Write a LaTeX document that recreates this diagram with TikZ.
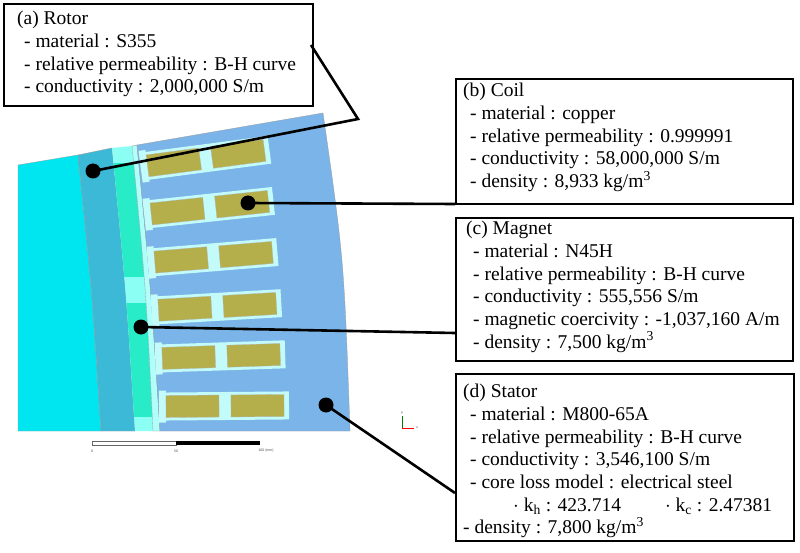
\documentclass[tikz,border=0pt]{standalone}
\usepackage{fontspec}
\setmainfont{Liberation Serif}
\setsansfont{Liberation Sans}
\newcommand{\mysub}[1]{\smash{\textsubscript{#1}}}
\newcommand{\mysup}[1]{\smash{\textsuperscript{#1}}}
\begin{document}
\begin{tikzpicture}[x=1pt,y=-1pt,
  box/.style={draw=black,line width=2.4pt,fill=white,minimum width=#1,inner sep=0},
  txt/.style={anchor=north west,align=left,inner sep=0,font=\fontsize{19.5}{22.7}\selectfont},
  conn/.style={draw=black,line width=2.6pt},
  dotm/.style={circle,fill=black,minimum size=15pt,inner sep=0}]
\definecolor{core}{RGB}{0,230,240}
\definecolor{band}{RGB}{60,185,215}
\definecolor{mag}{RGB}{40,235,200}
\definecolor{magl}{RGB}{140,255,245}
\definecolor{gap}{RGB}{175,255,250}
\definecolor{stat}{RGB}{122,180,232}
\definecolor{slotc}{RGB}{195,250,250}
\definecolor{coil}{RGB}{180,175,75}
\useasboundingbox (0,0) rectangle (800,553);
\fill[white] (0,0) rectangle (800,553);
% rotor core
\fill[core,draw=black!40,line width=0.3pt] (18,165) -- (78,155) .. controls (92,290) .. (101,431) -- (18,431) -- cycle;
% band
\fill[band,draw=black!40,line width=0.3pt] (78,155) -- (112,148) .. controls (126,290) .. (135,431) -- (101,431) .. controls (92,290) .. (78,155);
% magnet column
\begin{scope}
\clip (112,148) -- (132,146) .. controls (146,290) .. (153,431) -- (135,431) .. controls (126,290) .. (112,148);
\fill[magl] (100,140) rectangle (160,440);
\fill[mag] (100,163) rectangle (160,277);
\fill[mag] (100,303) rectangle (160,417);
\end{scope}
% airgap
\fill[gap,draw=black!40,line width=0.3pt] (132,146) -- (137,145) .. controls (151,290) .. (160,431) -- (153,431) .. controls (146,290) .. (132,146);
% stator
\fill[stat,draw=black!40,line width=0.3pt] (137,145) -- (323,113) .. controls (344,260) .. (350,431) -- (160,431) .. controls (151,290) .. (137,145);
% slots
\foreach \i in {0,...,5}{
  \begin{scope}[shift={(207+3.8*\i,158+49.6*\i)},rotate=7.5-1.4*\i]
    \fill[slotc] (-63,-14) rectangle (63,14);
    \fill[slotc] (-67,-16) rectangle (-60,16);
    \fill[coil,draw=black!30,line width=0.3pt] (-60,-11) rectangle (-7,11);
    \fill[coil,draw=black!30,line width=0.3pt] (5,-11) rectangle (58,11);
  \end{scope}
}
% scale bar
\draw[black!60,line width=0.4pt,fill=white] (92,441) rectangle (176,445);
\fill[black] (176,441) rectangle (260,445);
\node[font=\sffamily\fontsize{3.5}{4}\selectfont,text=black!70] (s0) at (92,451) {0};
\node[font=\sffamily\fontsize{3.5}{4}\selectfont,text=black!70] (s50) at (176,451) {50};
\node[font=\sffamily\fontsize{3.5}{4}\selectfont,text=black!70] (s100) at (266,451) {100 (mm)};
% axis triad
\coordinate (ax) at (402,428);
\draw[green!50!black,line width=0.7pt] (ax) -- ++(0,-12);
\draw[red,line width=0.7pt] (ax) -- ++(12,0);
\node[font=\sffamily\fontsize{3}{3}\selectfont] (ay) at (402,413) {y};
\node[font=\sffamily\fontsize{3}{3}\selectfont] (axx) at (417,428) {x};
% boxes
\node[box=309pt,minimum height=102pt,anchor=north west] (A) at (3,3) {};
\node[box=337pt,minimum height=125pt,anchor=north west] (B) at (455,78) {};
\node[box=337pt,minimum height=143pt,anchor=north west] (C) at (455,217) {};
\node[box=338pt,minimum height=167pt,anchor=north west] (D) at (455,373) {};
\node[txt] (At) at (17,11) {(a) Rotor\\\hspace*{7pt}- material : S355\\\hspace*{7pt}- relative permeability : B-H curve\\\hspace*{7pt}- conductivity : 2,000,000 S/m};
\node[txt] (Bt) at (463,83) {(b) Coil\\\hspace*{7pt}- material : copper\\\hspace*{7pt}- relative permeability : 0.999991\\\hspace*{7pt}- conductivity : 58,000,000 S/m\\\hspace*{7pt}- density : 8,933 kg/m\mysup{3}};
\node[txt] (Ct) at (466,221) {(c) Magnet\\\hspace*{7pt}- material : N45H\\\hspace*{7pt}- relative permeability : B-H curve\\\hspace*{7pt}- conductivity : 555,556 S/m\\\hspace*{7pt}- magnetic coercivity : -1,037,160 A/m\\\hspace*{7pt}- density : 7,500 kg/m\mysup{3}};
\node[txt] (Dt) at (463,384) {(d) Stator\\\hspace*{7pt}- material : M800-65A\\\hspace*{7pt}- relative permeability : B-H curve\\\hspace*{7pt}- conductivity : 3,546,100 S/m\\\hspace*{7pt}- core loss model : electrical steel\\\hspace*{50pt}$\cdot$ k\mysub{h} : 423.714\hspace*{44pt}$\cdot$ k\mysub{c} : 2.47381\\- density : 7,800 kg/m\mysup{3}};
% dots
\node[dotm] (dA) at (93,171) {};
\node[dotm] (dB) at (248,203) {};
\node[dotm] (dC) at (141,327) {};
\node[dotm] (dD) at (326,405) {};
\coordinate (bendA) at (358,119);
\coordinate (eA) at (311,45);
\coordinate (eB) at (455,204);
\coordinate (eC) at (455,333);
\coordinate (eD) at (455,493);
\draw[conn,line join=miter] (eA) -- (bendA) -- (dA.center);
\draw[conn] (dB.center) -- (eB);
\draw[conn] (dC.center) -- (eC);
\draw[conn] (dD.center) -- (eD);
\end{tikzpicture}
\end{document}
